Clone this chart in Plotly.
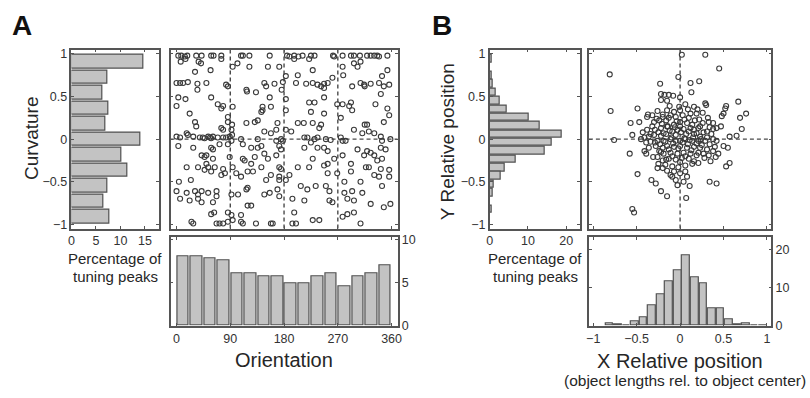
import plotly.graph_objects as go

# ---------------- DATA ----------------
# Panel A: curvature histogram (horizontal), bottom to top
curv_bins = [-0.909, -0.727, -0.545, -0.364, -0.182, 0.0, 0.182, 0.364, 0.545, 0.727, 0.909]
curv_pct = [7.7, 6.6, 7.3, 11.5, 10.1, 14.1, 6.9, 7.6, 6.3, 7.3, 14.7]

# Panel A: orientation histogram
ori_bins = [11.25, 33.75, 56.25, 78.75, 101.25, 123.75, 146.25, 168.75,
            191.25, 213.75, 236.25, 258.75, 281.25, 303.75, 326.25, 348.75]
ori_pct = [8.1, 8.1, 7.8, 7.6, 6.1, 6.1, 5.8, 5.8, 4.9, 4.9, 5.8, 6.1, 4.6, 5.8, 6.1, 7.0]

# Panel A: tuning peaks (orientation, curvature)
peaks_A = [
    (3, .98), (8, .98), (14, .97), (18, .98), (33, .98), (42, .98), (58, .98), (62, .98), (75, .98),
    (108, .98), (111, .98), (122, .98), (156, .98), (185, .98), (189, .97), (197, .98), (204, .97),
    (211, .98), (225, .98), (231, .98), (262, .98), (264, .97), (278, .98), (292, .98), (297, .98),
    (307, .98), (319, .98), (325, .98), (331, .98), (336, .98), (339, .97), (353, .98),
    (7, .91), (15, .94), (37, .91), (41, .89), (75, .94), (94, .85), (102, .89), (172, .85), (197, .94),
    (222, .94), (278, .85), (297, .89), (308, .91), (303, .85), (122, .85), (153, .85),
    (31, .79), (57, .81), (228, .81), (183, .74), (203, .75), (261, .72), (279, .75), (344, .74), (353, .81),
    (0, .66), (6, .66), (11, .66), (19, .67), (35, .65), (50, .66), (83, .64), (147, .66), (164, .65),
    (178, .67), (200, .66), (217, .65), (228, .66), (236, .64), (247, .65), (253, .66), (308, .66),
    (314, .64), (325, .65), (339, .66), (356, .64),
    (35, .58), (86, .62), (117, .58), (118, .56), (133, .55), (150, .62), (176, .58), (242, .62),
    (247, .60), (294, .62), (315, .62), (342, .53), (347, .62),
    (3, .49), (15, .47), (58, .49), (156, .49), (183, .47), (231, .43), (247, .49),
    (0, .39), (69, .41), (78, .39), (75, .36), (94, .38), (144, .38), (158, .38), (183, .34), (222, .43),
    (269, .41), (278, .41), (289, .39), (294, .34), (292, .43), (333, .41), (353, .36),
    (22, .30), (144, .34), (142, .32), (225, .32), (247, .30), (275, .25), (356, .28), (86, .26),
    (86, .20), (93, .17), (117, .19), (131, .20), (136, .22), (31, .20), (33, .15), (169, .19), (203, .19),
    (213, .19), (228, .19), (242, .17), (315, .17), (319, .17), (347, .20),
    (75, .13), (78, .11), (92, .11), (147, .09), (158, .07), (167, .11), (183, .11), (192, .09), (239, .13),
    (297, .11), (311, .07), (322, .09), (331, .07),
    (0, .03), (6, .02), (17, .07), (19, .05), (28, .03), (39, .02), (44, .02), (47, .01), (53, .03),
    (56, .02), (58, .01), (61, .03), (69, .02), (78, .02), (83, .02), (89, .03), (93, .05), (108, .00),
    (136, .00), (167, -.02), (175, .00), (178, -.02), (214, .02), (219, .02), (231, .00), (236, .02),
    (250, .00), (258, -.01), (275, .02), (278, -.02), (283, -.02), (342, .03), (344, -.02), (358, .00),
    (3, -.08), (28, -.10), (58, -.10), (61, -.12), (72, -.06), (92, -.02), (86, -.06), (111, -.06),
    (125, -.10), (136, -.10), (142, -.08), (172, -.08), (175, -.12), (214, -.10), (225, -.04), (236, -.10),
    (247, -.10), (253, -.14), (303, -.12), (319, -.14), (325, -.16), (342, -.10), (350, -.12),
    (42, -.19), (47, -.21), (50, -.19), (61, -.23), (89, -.21), (111, -.23), (131, -.21), (147, -.17),
    (153, -.23), (167, -.19), (228, -.23), (264, -.23), (278, -.19), (314, -.19), (331, -.19), (336, -.25),
    (344, -.23),
    (17, -.33), (36, -.33), (50, -.29), (53, -.33), (64, -.33), (78, -.35), (94, -.33), (114, -.25),
    (125, -.29), (142, -.33), (172, -.33), (175, -.35), (203, -.33), (222, -.33), (247, -.31), (253, -.29),
    (292, -.29), (317, -.33), (322, -.33), (342, -.35), (356, -.36),
    (47, -.36), (58, -.38), (75, -.42), (81, -.40), (100, -.40), (108, -.44), (119, -.38), (128, -.38),
    (158, -.42), (172, -.44), (189, -.42), (253, -.40), (269, -.40), (292, -.38), (331, -.42), (339, -.44),
    (356, -.44),
    (4, -.50), (24, -.48), (150, -.48), (172, -.48), (183, -.48), (208, -.55), (233, -.55), (250, -.55),
    (281, -.50), (308, -.50), (344, -.55),
    (0, -.61), (17, -.63), (31, -.61), (36, -.65), (42, -.61), (53, -.63), (67, -.61), (67, -.67),
    (92, -.65), (103, -.65), (117, -.59), (119, -.57), (147, -.65), (156, -.63), (169, -.59), (172, -.67),
    (219, -.59), (256, -.61), (281, -.63), (294, -.61), (311, -.63),
    (6, -.70), (22, -.72), (36, -.70), (42, -.74), (61, -.74), (119, -.78), (125, -.78), (194, -.70),
    (214, -.72), (256, -.72), (261, -.74), (286, -.70), (297, -.72), (325, -.76), (347, -.80), (358, -.76),
    (58, -.88), (63, -.86), (86, -.86), (92, -.89), (108, -.89), (197, -.86), (278, -.91), (286, -.88),
    (297, -.86),
    (25, -.97), (28, -.99), (67, -.99), (72, -.99), (78, -.99), (86, -.97), (94, -.95), (108, -.97),
    (111, -.99), (133, -.99), (158, -.99), (161, -.99), (194, -.99), (200, -.99), (228, -.95), (239, -.95),
    (308, -.99),
]

# Panel B: Y relative position histogram (horizontal), top to bottom
ypos_bins = [0.942, 0.844, 0.746, 0.648, 0.55, 0.452, 0.354, 0.256, 0.158, 0.06,
             -0.038, -0.136, -0.234, -0.332, -0.43, -0.528, -0.626, -0.724, -0.822]
ypos_pct = [0.5, 0.0, 0.4, 0.9, 1.5, 2.6, 4.5, 10.3, 13.0, 18.9,
            16.3, 14.4, 6.7, 3.9, 2.8, 1.0, 0.8, 0.0, 0.6]

# Panel B: X relative position histogram
xpos_bins = [-0.815, -0.717, -0.618, -0.520, -0.422, -0.323, -0.225, -0.127, -0.028, 0.070,
             0.168, 0.267, 0.365, 0.463, 0.562, 0.660, 0.758, 0.857, 0.955]
xpos_pct = [0.6, 0.3, 0.0, 1.2, 2.2, 5.3, 8.3, 11.8, 14.6, 18.6,
            12.7, 11.2, 4.5, 4.5, 1.7, 0.4, 0.7, 0.0, 0.2]

# Panel B: tuning peaks (x rel. position, y rel. position)
peaks_B = [
    (.02, .99), (.29, .99), (.45, .83), (-.81, .76), (-.02, .73), (-.23, .65), (.12, .66), (.22, .68),
    (-.80, .33), (-.49, .36), (.67, .44), (.76, .30), (.69, .25), (.71, .12), (.57, .03), (.65, .04),
    (-.76, -.01), (-.57, .19), (-.55, .05), (-.47, .20), (-.58, -.17), (-.49, -.41), (-.33, -.48),
    (-.28, -.52), (-.22, -.61), (-.15, -.67), (.07, -.69), (-.03, -.54), (.11, -.55), (.34, -.50),
    (.42, -.52), (-.55, -.82), (-.53, -.86), (.55, -.10), (.50, -.08), (.57, -.28), (.53, -.32),
    (.47, .15), (.48, .27), (.53, .39), (.42, -.02), (.44, -.17), (.50, .30), (.52, .36), (.38, .12),
    (.40, -.09), (.41, -.21),
    (-.22, .53), (-.18, .52), (-.13, .52), (-.08, .51), (.00, .49), (.13, .55), (-.22, .46), (-.15, .45),
    (.06, .41), (.29, .42), (.30, .40), (.16, .38), (.00, .34), (-.07, .32), (-.15, .34), (-.26, .33),
    (-.32, .28), (-.38, .26), (-.37, .29), (-.30, .20), (-.24, .22), (-.20, .26), (-.13, .25), (-.05, .26),
    (.03, .28), (.12, .30), (.19, .30), (.26, .31), (.22, .23), (.26, .19), (.33, .20), (.38, .19),
    (.42, .13), (.34, .14), (.31, .09), (.21, .13), (.14, .17), (.08, .19), (.00, .20), (-.07, .17),
    (-.15, .15), (-.22, .13), (-.29, .11), (-.38, .11), (-.43, .08), (-.45, .00), (-.41, .02), (-.36, .03),
    (-.30, .05), (-.22, .04), (-.16, .06), (-.09, .09), (-.03, .11), (.04, .12), (.10, .09), (.16, .06),
    (.23, .03), (.31, .02), (.38, .00), (.34, -.06), (.29, -.02), (.21, -.02), (.14, -.02), (.06, .00),
    (.00, -.02), (-.05, -.02), (-.11, .00), (-.19, -.02), (-.26, -.02), (-.34, -.03), (-.39, -.04),
    (-.41, -.14), (-.39, -.17), (-.36, -.10), (-.28, -.08), (-.20, -.10), (-.15, -.08), (-.07, -.09),
    (.00, -.08), (.08, -.10), (.16, -.09), (.23, -.10), (.31, -.12), (.38, -.14), (.33, -.19), (.27, -.17),
    (.19, -.19), (.12, -.17), (.04, -.16), (-.03, -.17), (-.11, -.16), (-.19, -.17), (-.24, -.14),
    (-.26, -.21), (-.20, -.25), (-.13, -.23), (-.05, -.24), (.02, -.22), (.10, -.23), (.16, -.26),
    (.21, -.28), (.14, -.29), (.06, -.31), (-.02, -.33), (-.09, -.32), (-.17, -.30), (-.25, -.29),
    (-.26, -.34), (-.20, -.34), (-.15, -.37), (-.07, -.38), (-.09, -.44), (-.05, -.48), (.00, -.40),
    (.06, -.38), (.08, -.44), (.04, -.50), (-.11, -.42),
    (-.27, .24), (-.21, .18), (-.16, .22), (-.11, .28), (-.04, .21), (.05, .23), (.10, .25), (.17, .22),
    (.23, .15), (.27, .08), (.19, .07), (.12, .13), (.07, .06), (.01, .08), (-.06, .14), (-.12, .10),
    (-.19, .07), (-.25, .08), (-.32, .15), (-.29, -.04), (-.23, -.06), (-.17, -.03), (-.13, -.12),
    (-.08, -.05), (-.02, -.11), (.03, -.04), (.09, -.06), (.13, -.13), (.19, -.05), (.25, -.07),
    (.28, -.22), (.21, -.16), (.06, -.20), (.00, -.27), (-.09, -.20), (-.16, -.24), (-.22, -.15),
    (-.31, -.21), (-.34, .06), (.32, .25), (.36, .06), (.35, -.26), (-.01, .38), (.09, .35), (-.12, .39),
    (.20, .35), (.24, .00), (-.05, .05), (.15, .02), (-.20, .29), (.00, .15), (.05, .01), (-.10, .02),
    (.11, -.01), (-.14, .15), (.16, .11),
]

# Tick labels
curv_ticks = [-1, -0.5, 0, 0.5, 1]
ori_ticks = [0, 90, 180, 270, 360]
pctA_ticks = [0, 5, 10, 15]
pctA_bottom_ticks = [0, 5, 10]
pctB_ticks = [0, 10, 20]
rel_ticks = [-1, -0.5, 0, 0.5, 1]

# ---------------- FIGURE ----------------
W, H = 810, 398
FONT = "Liberation Sans, Arial, Helvetica, sans-serif"
BAR_FILL = "#c3c3c3"
BAR_LINE = "#505050"
AX_COL = "#555555"
TXT = "#262626"


def px_x(p):
    return p / W


def px_y(p):
    return 1 - p / H


fig = go.Figure()

bw_c = 2 / 11
fig.add_trace(go.Bar(y=curv_bins, x=curv_pct, orientation="h", width=bw_c * 0.86,
                     marker=dict(color=BAR_FILL, line=dict(color=BAR_LINE, width=1.2)),
                     xaxis="x", yaxis="y", showlegend=False))

oA = [p[0] for p in peaks_A]
cA = [p[1] for p in peaks_A]
fig.add_trace(go.Scatter(x=oA, y=cA, mode="markers",
                         marker=dict(symbol="circle-open", size=5, color="#3a3a3a", line=dict(width=1.1)),
                         xaxis="x2", yaxis="y2", showlegend=False))

fig.add_trace(go.Bar(x=ori_bins, y=ori_pct, width=22.5 * 0.86,
                     marker=dict(color=BAR_FILL, line=dict(color=BAR_LINE, width=1.2)),
                     xaxis="x3", yaxis="y3", showlegend=False))

bw_b = 0.0983
fig.add_trace(go.Bar(y=ypos_bins, x=ypos_pct, orientation="h", width=bw_b * 0.9,
                     marker=dict(color=BAR_FILL, line=dict(color=BAR_LINE, width=1.2)),
                     xaxis="x4", yaxis="y4", showlegend=False))

xB = [p[0] for p in peaks_B]
yB = [p[1] for p in peaks_B]
fig.add_trace(go.Scatter(x=xB, y=yB, mode="markers",
                         marker=dict(symbol="circle-open", size=5, color="#3a3a3a", line=dict(width=1.1)),
                         xaxis="x5", yaxis="y5", showlegend=False))

fig.add_trace(go.Bar(x=xpos_bins, y=xpos_pct, width=bw_b * 0.9,
                     marker=dict(color=BAR_FILL, line=dict(color=BAR_LINE, width=1.2)),
                     xaxis="x6", yaxis="y6", showlegend=False))


def ax(domain, rng, ticks, labels=True, side=None, anchor=None):
    d = dict(domain=domain, range=rng, tickvals=ticks, showticklabels=labels,
             showline=True, linecolor=AX_COL, linewidth=1.5, mirror="ticks",
             ticks="inside", ticklen=3, tickcolor=AX_COL, tickwidth=1,
             showgrid=False, zeroline=False, fixedrange=True,
             tickfont=dict(family=FONT, size=12.5, color="#333333"))
    if side:
        d["side"] = side
    if anchor:
        d["anchor"] = anchor
    return d


yd_top = [px_y(231), px_y(47)]
yd_bot = [px_y(331), px_y(240)]
xd_Ah = [px_x(69), px_x(157)]
xd_As = [px_x(169), px_x(398)]
xd_Bh = [px_x(491), px_x(582)]
xd_Bs = [px_x(591), px_x(775)]

fig.update_layout(
    width=W, height=H, margin=dict(l=0, r=0, t=0, b=0),
    paper_bgcolor="white", plot_bgcolor="white", bargap=0,
    xaxis=ax(xd_Ah, [0, 17.8], pctA_ticks, anchor="y"),
    yaxis=ax(yd_top, [-1.05, 1.05], curv_ticks, anchor="x"),
    xaxis2=ax(xd_As, [-10, 370], ori_ticks, labels=False, anchor="y2"),
    yaxis2=ax(yd_top, [-1.05, 1.05], curv_ticks, labels=False, anchor="x2"),
    xaxis3=ax(xd_As, [-10, 370], ori_ticks, anchor="y3"),
    yaxis3=ax(yd_bot, [0, 10.3], pctA_bottom_ticks, side="right", anchor="x3"),
    xaxis4=ax(xd_Bh, [0, 23.6], pctB_ticks, anchor="y4"),
    yaxis4=ax(yd_top, [-1.05, 1.05], curv_ticks, anchor="x4"),
    xaxis5=ax(xd_Bs, [-1.05, 1.05], rel_ticks, labels=False, anchor="y5"),
    yaxis5=ax(yd_top, [-1.05, 1.05], rel_ticks, labels=False, anchor="x5"),
    xaxis6=ax(xd_Bs, [-1.05, 1.05], rel_ticks, anchor="y6"),
    yaxis6=ax(yd_bot, [0, 23.3], pctB_ticks, side="right", anchor="x6"),
)

dash = dict(color="#4a4a4a", width=1.4, dash="4px,3px")
shapes = []
for v in [90, 180, 270]:
    shapes.append(dict(type="line", xref="x2", yref="y2 domain", x0=v, x1=v, y0=0, y1=1, line=dash, layer="below"))
shapes.append(dict(type="line", xref="x2 domain", yref="y2", x0=0, x1=1, y0=0, y1=0, line=dash, layer="below"))
shapes.append(dict(type="line", xref="x5", yref="y5 domain", x0=0, x1=0, y0=0, y1=1, line=dash, layer="below"))
shapes.append(dict(type="line", xref="x5 domain", yref="y5", x0=0, x1=1, y0=0, y1=0, line=dash, layer="below"))
fig.update_layout(shapes=shapes)


def label(text, x, y, size, angle=0, bold=False):
    fig.add_annotation(text=("<b>%s</b>" % text) if bold else text,
                       xref="paper", yref="paper", x=px_x(x), y=px_y(y),
                       xanchor="center", yanchor="middle", showarrow=False, textangle=angle,
                       font=dict(family=FONT, size=size, color="#111111" if bold else TXT))


label("A", 19, 22, 28, bold=True)
label("B", 443, 22, 28, bold=True)
label("Curvature", 28, 138, 19, angle=-90)
label("Y Relative position", 448, 142, 19, angle=-90)
label("Percentage of", 113, 262, 15)
label("tuning peaks", 113, 280, 15)
label("Percentage of", 537, 262, 15)
label("tuning peaks", 537, 280, 15)
label("Orientation", 283, 366, 20)
label("X Relative position", 683, 367, 20)
label("(object lengths rel. to object center)", 688, 387, 15.5)

fig.write_html("out.html")
